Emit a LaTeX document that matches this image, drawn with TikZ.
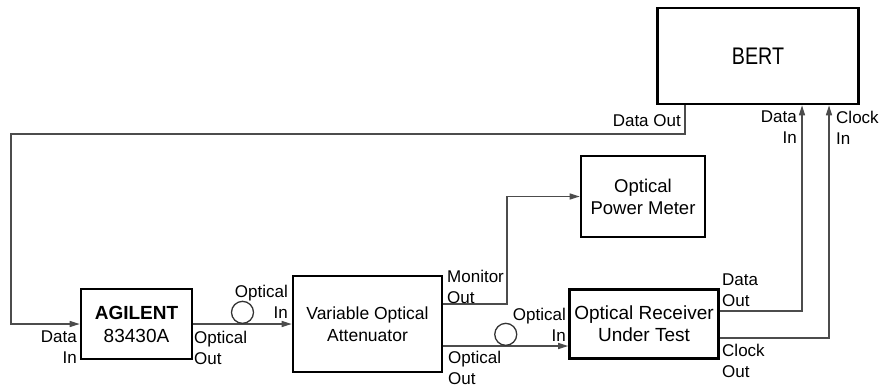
\documentclass[tikz,border=0pt]{standalone}
\usepackage{fontspec}
\setmainfont{Liberation Sans}
\newfontfamily\narrowfont[FakeStretch=0.82]{Liberation Sans}
\usetikzlibrary{arrows.meta}
\usetikzlibrary{calc}
\tikzset{
  box/.style={draw, line width=2.6pt, inner sep=0pt, align=center,
    font=\fontsize{17.5}{22}\selectfont},
  lbl/.style={inner sep=1pt, font=\fontsize{17}{21}\selectfont},
  wire/.style={line width=1.3pt, draw=black!70},
  tip/.style={-{Triangle[length=10pt,width=6pt]}},
  coil/.style={draw=black!80, line width=1.3pt, circle, minimum size=22pt, inner sep=0pt}
}

\begin{document}
\begin{tikzpicture}[x=1pt, y=1pt]
\useasboundingbox (0,0) rectangle (891,-391);

\node[box, minimum width=201pt, minimum height=96pt, font=\narrowfont\fontsize{24}{28}\selectfont] (bert) at (758,-56) {BERT};
\node[box, minimum width=124pt, minimum height=81pt, font=\fontsize{18.5}{22}\selectfont] (opm) at (643,-196.5) {Optical\\Power Meter};
\node[box, minimum width=111pt, minimum height=70pt, font=\fontsize{19}{23}\selectfont] (agl) at (136.5,-324) {{\bfseries AGILENT}\\83430A};
\node[box, minimum width=149pt, minimum height=96pt] (voa) at (367.5,-324) {Variable Optical\\Attenuator};
\node[box, minimum width=149pt, minimum height=69pt, font=\fontsize{19}{22}\selectfont] (rcv) at (644,-324) {Optical Receiver\\Under Test};

% data loop from the BERT back to the source
\coordinate (loop) at (11,-134);
\draw[wire, tip] (685,0 |- bert.south) |- (loop) |- (agl.west);

% optical path
\draw[wire, tip] (agl.east) -- (voa.west);
\node[coil, anchor=south] (coil1) at ($(agl.east)!0.5!(voa.west)$) {};
\draw[wire, tip] (voa.east |- 0,-346) -- (rcv.west |- 0,-346);
\node[coil, anchor=south] (coil2) at ($(voa.east |- 0,-346)!0.5!(rcv.west |- 0,-346)$) {};

\coordinate (mon) at (507,-304);
\draw[wire, tip] (voa.east |- mon) -- (mon) |- (opm.west);

% receiver outputs to the BERT
\draw[wire, tip] (rcv.east |- 0,-311) -| (bert.south -| 802,0);
\draw[wire, tip] (rcv.east |- 0,-338) -| (bert.south -| 829,0);

% port labels
\node[lbl, anchor=east] (bdo) at (682,-121) {Data Out};
\node[lbl, align=right, anchor=north east] (bdi) at (798,-110) {Data\\In};
\node[lbl, align=left, anchor=north west] (bci) at (835,-110) {Clock\\In};
\node[lbl, align=right, anchor=north east] (adi) at (78,-330) {Data\\In};
\node[lbl, align=left, anchor=north west] (aoo) at (193,-330) {Optical\\Out};
\node[lbl, align=right, anchor=south east] (voi) at (289,-320) {Optical\\In};
\node[lbl, align=left, anchor=south west] (vmo) at (446,-305) {Monitor\\Out};
\node[lbl, align=left, anchor=north west] (voo) at (447,-350) {Optical\\Out};
\node[lbl, align=right, anchor=south east] (roi) at (567,-343) {Optical\\In};
\node[lbl, align=left, anchor=south west] (rdo) at (721,-308) {Data\\Out};
\node[lbl, align=left, anchor=north west] (rco) at (721,-343) {Clock\\Out};

\end{tikzpicture}
\end{document}
